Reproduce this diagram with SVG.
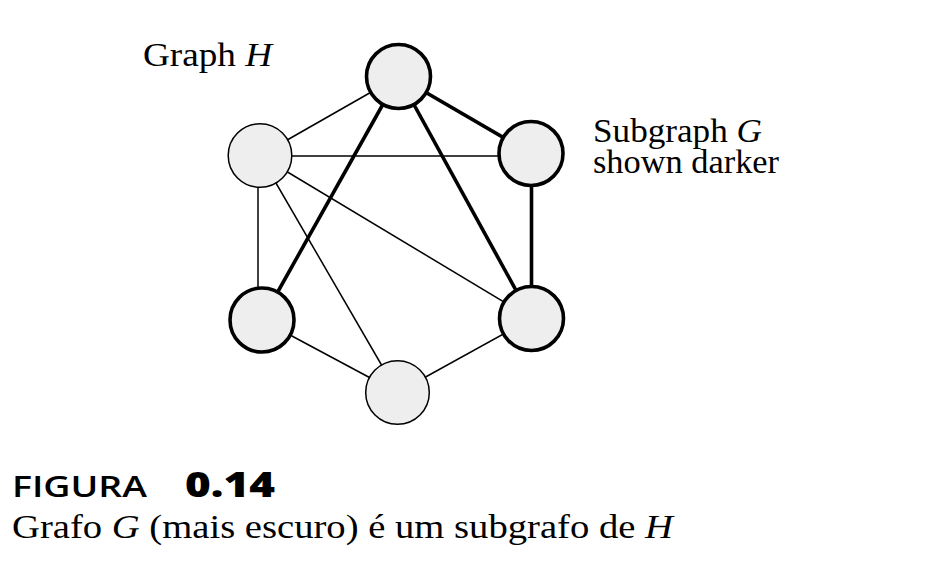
<svg xmlns="http://www.w3.org/2000/svg" width="929" height="572" viewBox="0 0 929 572">
<style>
.thin{stroke:#000;stroke-width:1.5;fill:none}
.thick{stroke:#000;stroke-width:3.6;fill:none}
.n-thin{fill:#eeeeee;stroke:#000;stroke-width:1.5}
.n-thick{fill:#eeeeee;stroke:#000;stroke-width:3.6}
.serif{font-family:"Liberation Serif","Times New Roman",serif;font-size:33px;fill:#000}
.it{font-style:italic}
.sans{font-family:"Open Sans","Liberation Sans",Arial,sans-serif;fill:#000}
</style>
<rect width="929" height="572" fill="#fff"/>
<g id="connectors">
<line class="thin" x1="398.5" y1="76.5" x2="260" y2="155.5"/>
<line class="thin" x1="260" y1="156" x2="531" y2="156"/>
<line class="thin" x1="258" y1="155.5" x2="258" y2="320"/>
<line class="thin" x1="260" y1="155.5" x2="531.5" y2="318.5"/>
<line class="thin" x1="260" y1="155.5" x2="397.5" y2="392.5"/>
<line class="thin" x1="262" y1="320" x2="397.5" y2="392.5"/>
<line class="thin" x1="397.5" y1="392.5" x2="531.5" y2="318.5"/>
<line class="thick" x1="398.5" y1="76.5" x2="531" y2="153.5"/>
<line class="thick" x1="398.5" y1="76.5" x2="262" y2="320"/>
<line class="thick" x1="398.5" y1="76.5" x2="531.5" y2="318.5"/>
<line class="thick" x1="531.5" y1="153.5" x2="531.5" y2="318.5"/>
</g>
<g id="node-top"><circle class="n-thick" cx="398.5" cy="76.5" r="32"/></g>
<g id="node-upper-left"><circle class="n-thin" cx="260" cy="155.5" r="31.8"/></g>
<g id="node-upper-right"><circle class="n-thick" cx="531" cy="153.5" r="32"/></g>
<g id="node-lower-left"><circle class="n-thick" cx="262" cy="320" r="32"/></g>
<g id="node-lower-right"><circle class="n-thick" cx="531.5" cy="318.5" r="32"/></g>
<g id="node-bottom"><circle class="n-thin" cx="397.5" cy="392.5" r="31.8"/></g>
<g id="labels">
<text class="serif" x="143" y="66" textLength="129" lengthAdjust="spacingAndGlyphs">Graph <tspan class="it">H</tspan></text>
<text class="serif" x="593" y="142" textLength="169" lengthAdjust="spacingAndGlyphs">Subgraph <tspan class="it">G</tspan></text>
<text class="serif" x="593" y="173" textLength="186" lengthAdjust="spacingAndGlyphs">shown darker</text>
<text class="sans" x="12" y="497" font-size="29" font-weight="600" textLength="135" lengthAdjust="spacingAndGlyphs">FIGURA</text>
<text class="sans" x="185" y="497" font-size="36" font-weight="800" textLength="90" lengthAdjust="spacingAndGlyphs">0.14</text>
<text class="serif" x="12" y="538" textLength="661" lengthAdjust="spacingAndGlyphs">Grafo <tspan class="it">G</tspan> (mais escuro) é um subgrafo de <tspan class="it">H</tspan></text>
</g>
</svg>
